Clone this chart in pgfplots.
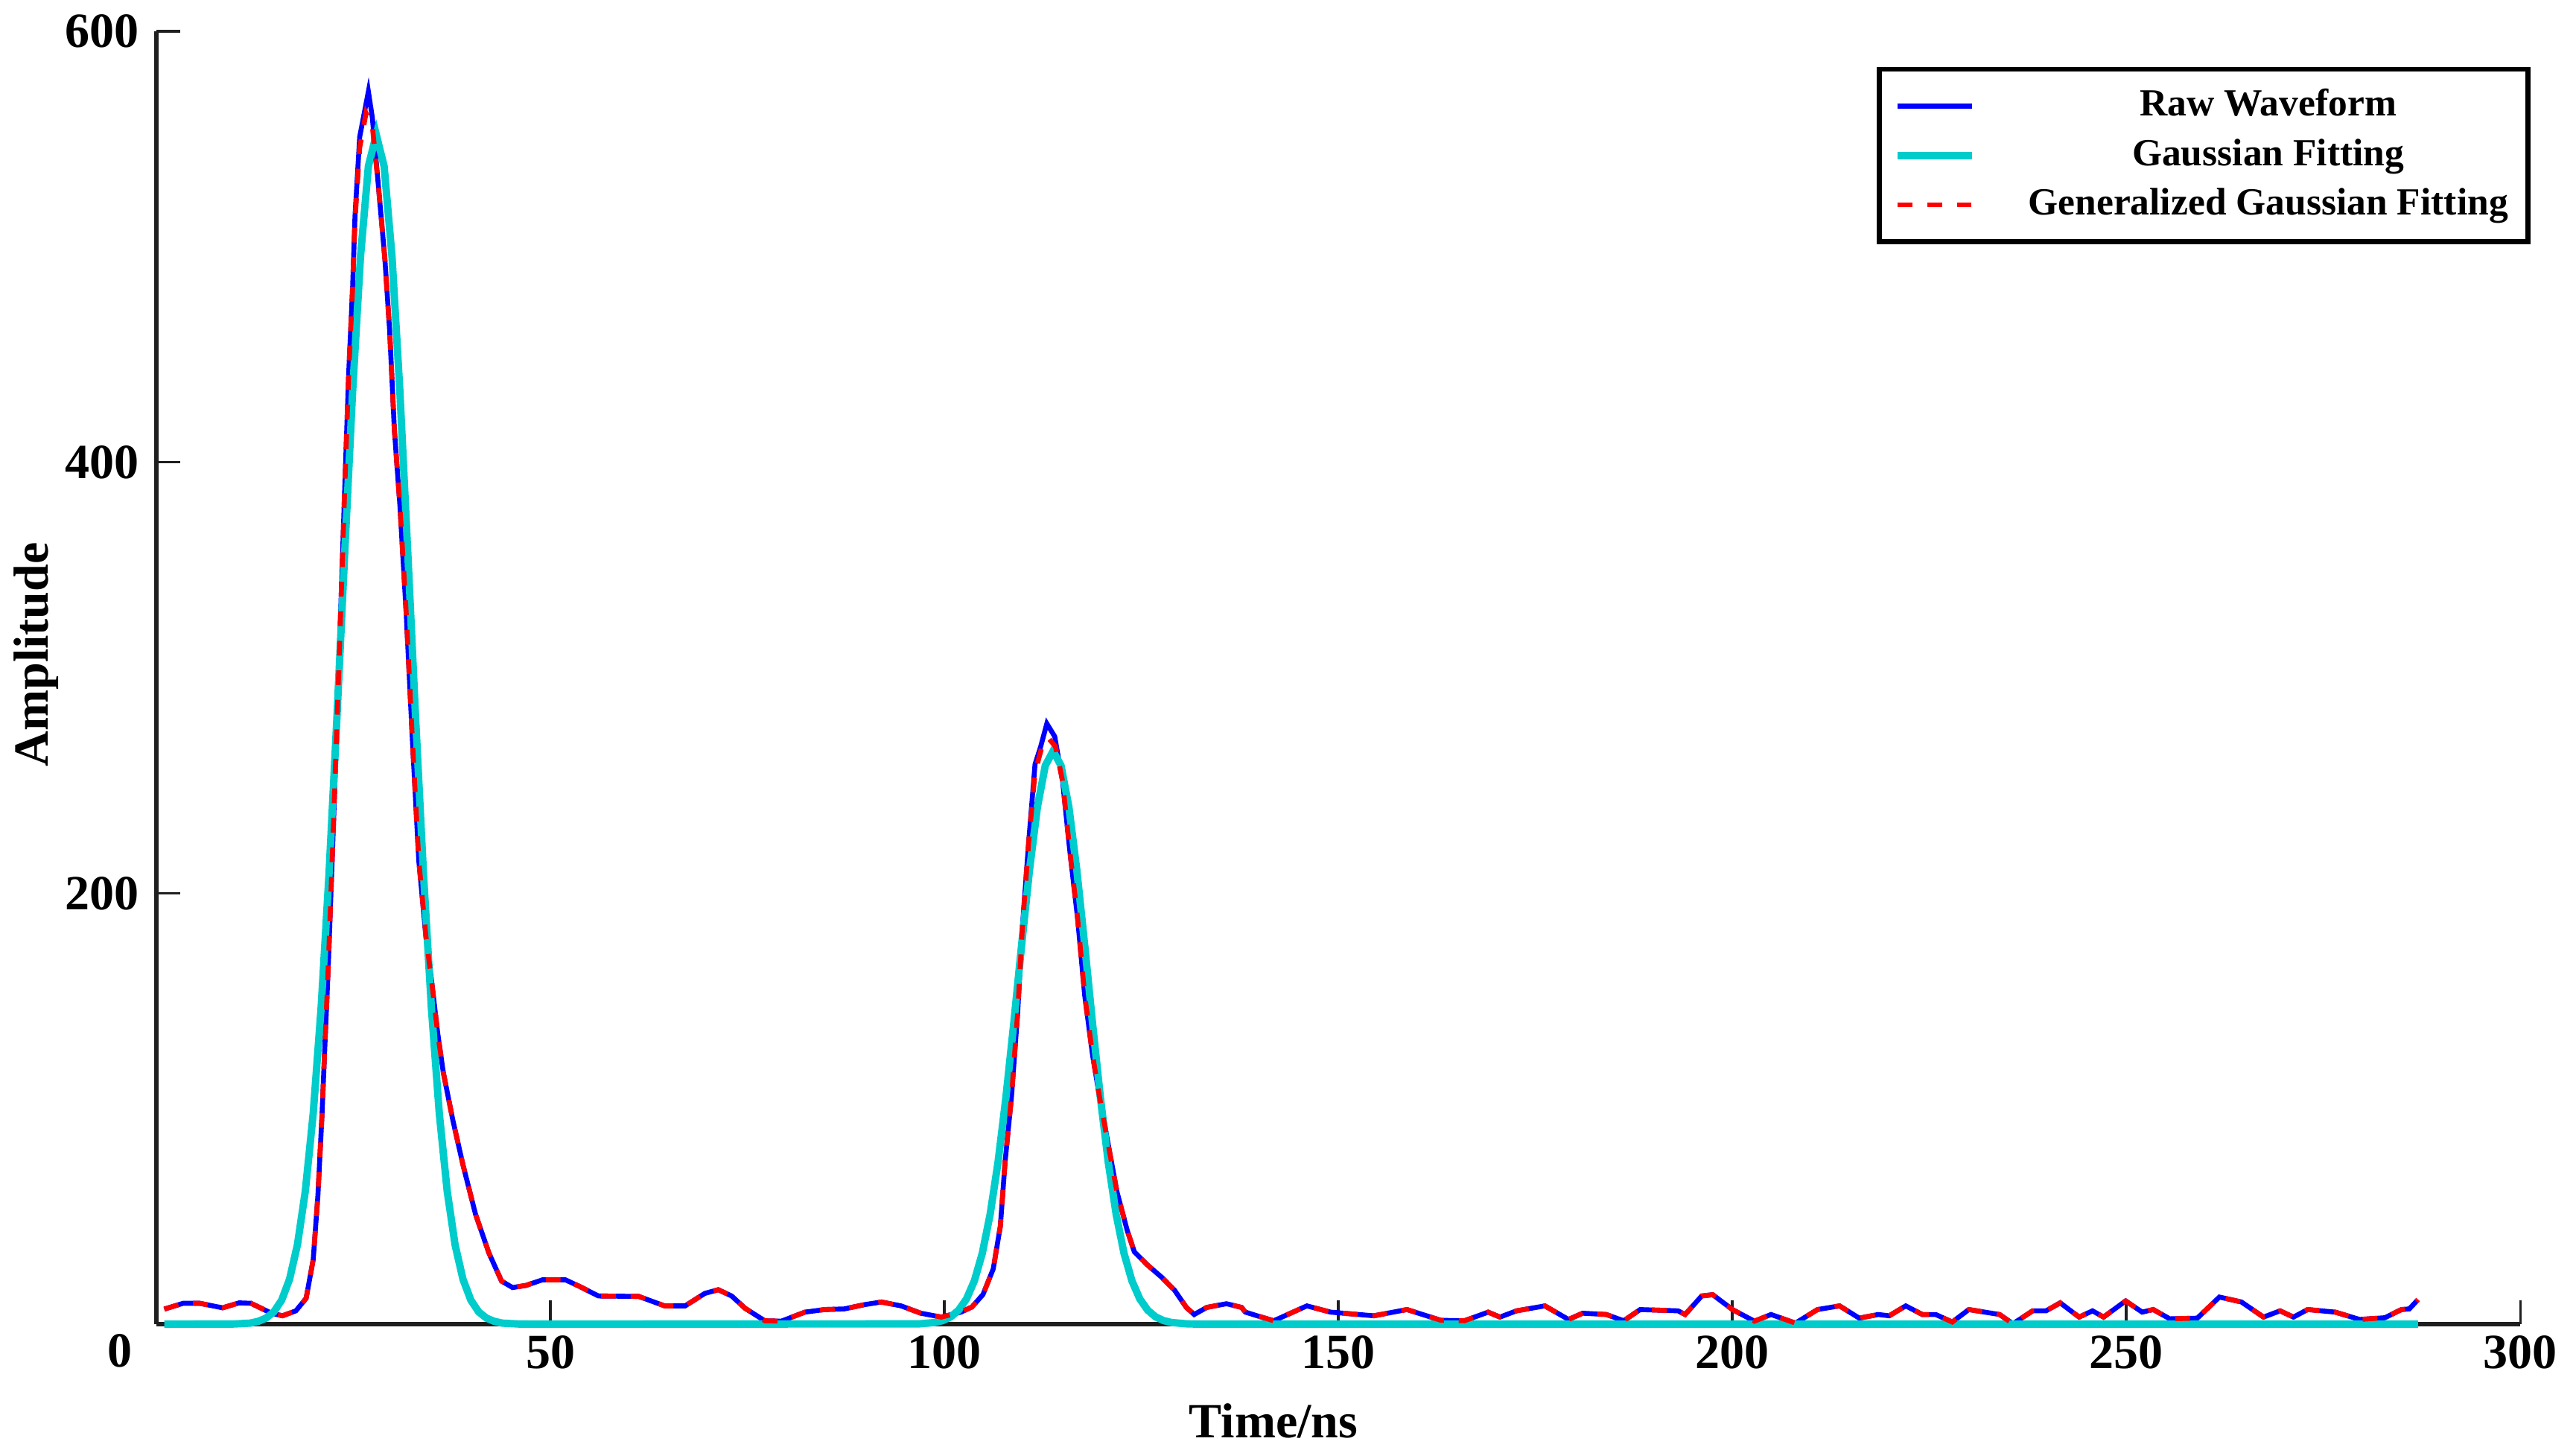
\documentclass[border=0pt]{standalone}
\usepackage{fontspec}
\setmainfont{Liberation Serif}
\usepackage{pgfplots}
\pgfplotsset{compat=1.18}
\definecolor{gcyan}{RGB}{0,204,204}
\begin{document}
\begin{tikzpicture}
\useasboundingbox (-1.117,-0.894) rectangle (17.28,9.457);
\begin{axis}[
  at={(0,0)}, anchor=south west,
  scale only axis,
  width=16.883cm, height=9.234cm,
  xmin=0, xmax=300, ymin=0, ymax=600,
  enlargelimits=false,
  clip=false,
  axis x line*=bottom, axis y line*=left,
  axis line style={line width=0.8pt, color=black!88},
  xtick={50,100,...,300}, ytick={200,400,600},
  tick align=inside,
  major tick length=0.17cm,
  major tick style={line width=0.55pt, black!88},
  /pgf/number format/assume math mode=true,
  tick label style={font=\fontsize{10}{12}\selectfont\bfseries},
  xticklabel style={yshift=0.04cm},
  xlabel={Time/ns}, ylabel={Amplitude},
  label style={font=\fontsize{10}{12}\selectfont\bfseries},
  xlabel style={at={(axis description cs:0.4726,0)}, anchor=center, yshift=-0.69cm},
  ylabel style={at={(axis description cs:-0.0507,0.518)}, anchor=center},
  legend cell align=center,
  legend style={at={(1,1)}, anchor=north east, xshift=0.07cm, yshift=-0.255cm,
    draw=black, line width=1pt, inner xsep=3pt, inner ysep=2.5pt,
    font=\fontsize{7.8}{9.4}\selectfont\bfseries,
    nodes={text height=6pt, text depth=2pt, inner sep=1pt},
    row sep=0pt},
  legend image code/.code={\draw[#1] plot coordinates {(0cm,0cm) (0.53cm,0cm)}; \path (0.87cm,0cm);},
]
\addplot[blue, line width=1pt] coordinates {
(1,7) (3.4,9.7) (5.5,9.7) (8.4,7.6) (10.5,9.9) (12.0,9.7) (14.6,5.1) (16.0,3.9) (17.7,6.2)
(19.0,12) (19.9,30) (20.5,60) (21.0,96) (21.4,131) (21.8,165) (22.5,235) (23.2,310)
(23.9,388) (24.4,441) (24.9,481) (25.2,514) (25.8,551) (26.9,572) (27.4,560) (28.2,527)
(29.0,494) (29.6,461) (30.2,415) (30.9,380) (31.7,330) (32.5,270) (33.3,215) (34.2,180)
(34.9,160) (35.7,135) (36.4,117) (37.6,95) (38.9,74) (40.5,51) (42.2,33) (43.8,20)
(45.2,17) (46.9,18) (49,20.6) (51.9,20.6) (53.6,17.7) (56.1,13.1) (61.2,12.9) (64.5,8.5)
(67.1,8.5) (69.6,14.3) (71.3,16) (73,13.1) (74.7,7.4) (77.2,1.6) (79.3,1.4) (82.3,5.6)
(84.8,6.8) (87.3,7.1) (89.9,9.1) (92,10.3) (94.5,8.5) (97,5.1) (99.6,3.3) (102.1,5.6)
(103.5,8) (104.9,13.8) (106.2,25.7) (107.1,45.5) (107.7,75.3) (108.5,105) (109.3,144.7)
(109.9,184.4) (110.7,224) (111.5,259.8) (112.2,267.8) (113,278.7) (114,272.7) (115,251.9)
(115.9,220.1) (116.9,188.4) (117.8,152.7) (118.8,124.9) (119.7,105.1) (120.7,85.2)
(121.9,61.4) (123.2,43.5) (124.1,33.6) (125.7,27.7) (127.6,21.7) (129.2,15.8) (130.7,7.8)
(131.7,4.5) (133.3,7.8) (135.8,9.5) (137.7,7.8) (138.2,5.6) (139.6,4) (141.8,1.6)
(146,8.5) (149,5.6) (154.5,3.9) (158.7,6.8) (163,1.8) (166,1.6) (169,5.6) (170.5,3.3)
(172.6,6.2) (176.2,8.5) (179.2,2.2) (181,5.1) (184,4.5) (186.2,1.6) (188.3,6.8) (193.1,6.2)
(194,4.5) (196.1,13.1) (197.5,13.7) (200,6.8) (202.8,1.4) (204.9,4.5) (208,0.5) (210.8,6.8)
(213.6,8.5) (216.1,2.8) (218.5,4.5) (219.9,3.9) (222,8.5) (224.1,4.5) (225.8,4.5) (227.9,1)
(230,6.8) (233.9,4.5) (235.6,0.2) (238.1,6.2) (239.8,6.2) (241.6,9.9) (244,3.3) (245.7,6.2)
(247.1,3.3) (249.9,10.8) (252,5.6) (253.4,6.8) (255.5,2.5) (259,2.8) (261.8,12.6) (264.6,10.3)
(267.4,3.3) (269.5,6.2) (271.2,3.3) (273,6.8) (276.5,5.6) (279.6,2.2) (282.8,3) (284.9,6.8)
(285.9,7.1) (287,11.4)
};
\addlegendentry{Raw Waveform}
\addplot[gcyan, line width=1.5pt] coordinates {
(1,0) (9.9,0.1) (11.9,0.5) (12.9,1.3) (13.9,2.8) (14.9,5.7) (15.9,11.2) (16.9,20.9)
(17.9,36.9) (18.9,61.8) (19.9,97.8) (20.9,146.7) (21.9,208.5) (22.9,280.8) (23.9,358.1)
(24.9,432.8) (25.9,495.4) (26.9,537.3) (27.9,552) (28.9,537.3) (29.9,495.4) (30.9,432.8)
(31.9,358.1) (32.9,280.8) (33.9,208.5) (34.9,146.7) (35.9,97.8) (36.9,61.8) (37.9,36.9)
(38.9,20.9) (39.9,11.2) (40.9,5.7) (41.9,2.8) (42.9,1.3) (43.9,0.5) (45.9,0.1) (48,0)
(96.8,0.15) (98.8,0.8) (99.8,1.7) (100.8,3.4) (101.8,6.5) (102.8,11.7) (103.8,20.1)
(104.8,32.8) (105.8,50.9) (106.8,75.0) (107.8,105.0) (108.8,139.5) (109.8,176.0)
(110.8,210.8) (111.8,239.9) (112.8,259.2) (113.8,266) (114.8,259.2) (115.8,239.9)
(116.8,210.8) (117.8,176.0) (118.8,139.5) (119.8,105.0) (120.8,75.0) (121.8,50.9)
(122.8,32.8) (123.8,20.1) (124.8,11.7) (125.8,6.5) (126.8,3.4) (127.8,1.7) (128.8,0.8)
(130.8,0.15) (133,0) (287,0)
};
\addlegendentry{Gaussian Fitting}
\addplot[red, line width=1pt, dash pattern=on 3pt off 3pt] coordinates {
(1,7) (3.4,9.7) (5.5,9.7) (8.4,7.6) (10.5,9.9) (12.0,9.7) (14.6,5.1) (16.0,3.9) (17.7,6.2)
(19.0,12) (19.9,30) (20.5,60) (21.0,96) (21.4,131) (21.8,165) (22.5,235) (23.2,310)
(23.9,388) (24.4,441) (24.9,481) (25.2,512) (25.8,546) (26.6,562) (27.4,556) (28.2,527)
(29.0,494) (29.6,461) (30.2,415) (30.9,380) (31.7,330) (32.5,270) (33.3,215) (34.2,180)
(34.9,160) (35.7,135) (36.4,117) (37.6,95) (38.9,74) (40.5,51) (42.2,33) (43.8,20)
(45.2,17) (46.9,18) (49,20.6) (51.9,20.6) (53.6,17.7) (56.1,13.1) (61.2,12.9) (64.5,8.5)
(67.1,8.5) (69.6,14.3) (71.3,16) (73,13.1) (74.7,7.4) (77.2,1.6) (79.3,1.4) (82.3,5.6)
(84.8,6.8) (87.3,7.1) (89.9,9.1) (92,10.3) (94.5,8.5) (97,5.1) (99.6,3.3) (102.1,5.6)
(103.5,8) (104.9,13.8) (106.2,25.7) (107.1,45.5) (107.7,75.3) (108.5,105) (109.3,144.7)
(109.9,184.4) (110.7,224) (111.5,256) (112.3,267) (113.2,272) (114.1,268) (115,251.9)
(115.9,220.1) (116.9,188.4) (117.8,152.7) (118.8,124.9) (119.7,105.1) (120.7,85.2)
(121.9,61.4) (123.2,43.5) (124.1,33.6) (125.7,27.7) (127.6,21.7) (129.2,15.8) (130.7,7.8)
(131.7,4.5) (133.3,7.8) (135.8,9.5) (137.7,7.8) (138.2,5.6) (139.6,4) (141.8,1.6)
(146,8.5) (149,5.6) (154.5,3.9) (158.7,6.8) (163,1.8) (166,1.6) (169,5.6) (170.5,3.3)
(172.6,6.2) (176.2,8.5) (179.2,2.2) (181,5.1) (184,4.5) (186.2,1.6) (188.3,6.8) (193.1,6.2)
(194,4.5) (196.1,13.1) (197.5,13.7) (200,6.8) (202.8,1.4) (204.9,4.5) (208,0.5) (210.8,6.8)
(213.6,8.5) (216.1,2.8) (218.5,4.5) (219.9,3.9) (222,8.5) (224.1,4.5) (225.8,4.5) (227.9,1)
(230,6.8) (233.9,4.5) (235.6,0.2) (238.1,6.2) (239.8,6.2) (241.6,9.9) (244,3.3) (245.7,6.2)
(247.1,3.3) (249.9,10.8) (252,5.6) (253.4,6.8) (255.5,2.5) (259,2.8) (261.8,12.6) (264.6,10.3)
(267.4,3.3) (269.5,6.2) (271.2,3.3) (273,6.8) (276.5,5.6) (279.6,2.2) (282.8,3) (284.9,6.8)
(285.9,7.1) (287,11.4)
};
\addlegendentry{Generalized Gaussian Fitting}
\node[font=\fontsize{10}{12}\selectfont\bfseries, anchor=center, xshift=-0.26cm, yshift=-0.19cm] at (axis cs:0,0) {0};
\end{axis}
\end{tikzpicture}
\end{document}
